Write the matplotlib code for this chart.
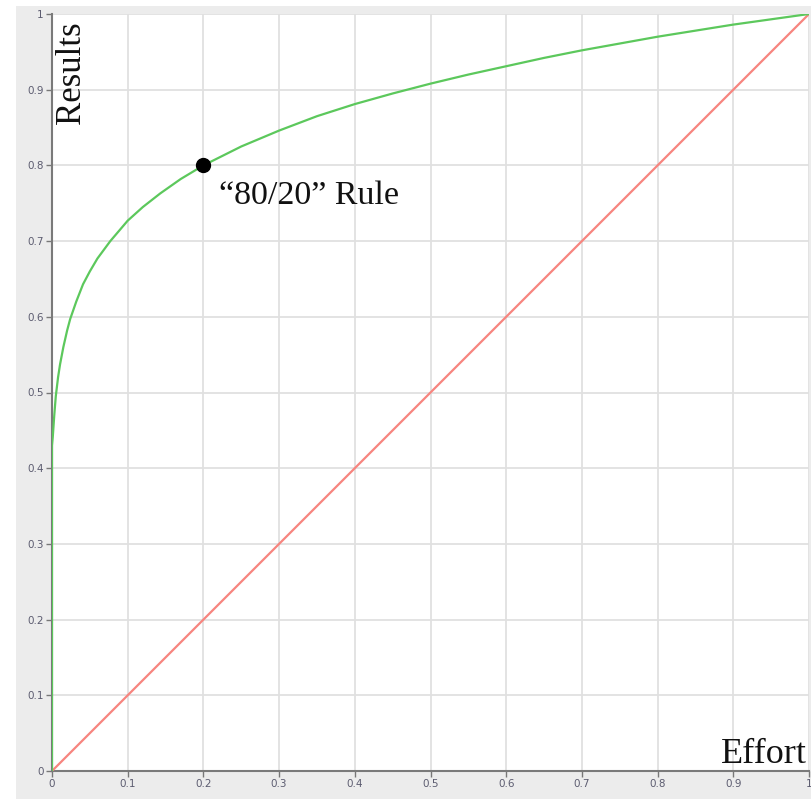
import matplotlib
matplotlib.use("Agg")
import matplotlib.pyplot as plt
from matplotlib.patches import Rectangle

# Data
effort = [0, 0.0, 0.001, 0.003, 0.005, 0.008, 0.0106, 0.015, 0.02, 0.024, 0.032, 0.041, 0.05,
          0.06, 0.077, 0.1, 0.12, 0.143, 0.17, 0.2, 0.25, 0.3, 0.35, 0.4, 0.45, 0.5, 0.55,
          0.6, 0.65, 0.7, 0.75, 0.8, 0.85, 0.9, 0.95, 1.0]
results = [0, 0.43, 0.441, 0.47, 0.495, 0.52, 0.537, 0.56, 0.582, 0.597, 0.62, 0.643, 0.66,
           0.677, 0.70, 0.727, 0.745, 0.763, 0.782, 0.80, 0.825, 0.846, 0.865, 0.881, 0.895, 0.908, 0.92,
           0.931, 0.942, 0.952, 0.961, 0.97, 0.978, 0.986, 0.993, 1.0]
equal_x = [0, 1]
equal_y = [0, 1]
point_x = [0.2]
point_y = [0.8]
point_label = "\u201c80/20\u201d Rule"
ticks = [0, 0.1, 0.2, 0.3, 0.4, 0.5, 0.6, 0.7, 0.8, 0.9, 1]
tick_labels = ["0", "0.1", "0.2", "0.3", "0.4", "0.5", "0.6", "0.7", "0.8", "0.9", "1"]

W, H = 811, 799
fig = plt.figure(figsize=(W / 100, H / 100), dpi=100, facecolor="white")
fig.patches.append(Rectangle((16 / W, 0), 1 - 16 / W, 1 - 6 / H, transform=fig.transFigure,
                             facecolor="#ececec", edgecolor="none", zorder=-10))
ax = fig.add_axes([52 / W, (H - 771) / H, 757 / W, 757 / H])
ax.set_facecolor("white")
ax.set_xlim(0, 1)
ax.set_ylim(0, 1)
ax.set_xticks(ticks)
ax.set_xticklabels(tick_labels)
ax.set_yticks(ticks)
ax.set_yticklabels(tick_labels)
ax.grid(True, color="#e0e0e0", linewidth=1.3)
ax.set_axisbelow(True)
for s in ["top", "right"]:
    ax.spines[s].set_visible(False)
for s in ["left", "bottom"]:
    ax.spines[s].set_color("#7a7a7a")
    ax.spines[s].set_linewidth(1.5)
ax.tick_params(colors="#777777", labelcolor="#5c5c70", labelsize=7.5, length=4, width=1, pad=2)

ax.plot(equal_x, equal_y, color="#f7857f", linewidth=1.6, zorder=3)
ax.plot(effort, results, color="#5cc85c", linewidth=1.6, zorder=4)
ax.plot(point_x, point_y, "o", color="black", markersize=10, zorder=5)
ax.annotate(point_label, (point_x[0], point_y[0]), xytext=(11, -22), textcoords="offset points",
            fontsize=24.5, family="Liberation Serif", color="#111111", va="center")

ax.text(0.0255, 0.99, "Results", rotation=90, ha="center", va="top", fontsize=25,
        family="Liberation Serif", color="#111111", transform=ax.transAxes)
ax.text(0.997, 0.0, "Effort", ha="right", va="bottom", fontsize=26,
        family="Liberation Serif", color="#111111", transform=ax.transAxes)

fig.savefig("out.png", dpi=100, facecolor=fig.get_facecolor())
